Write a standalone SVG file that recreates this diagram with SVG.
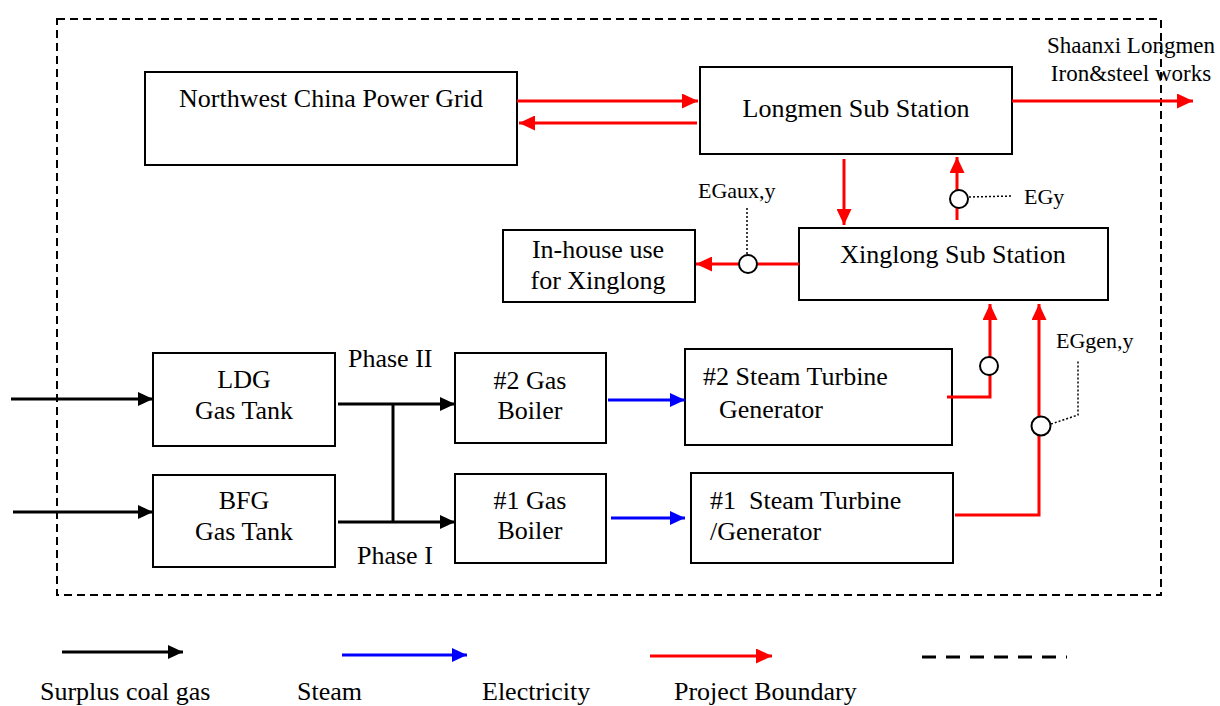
<svg xmlns="http://www.w3.org/2000/svg" width="1220" height="706" viewBox="0 0 1220 706">
<defs>
<style>
.box{fill:#fff;stroke:#000;stroke-width:2}
.t{font-family:"Liberation Serif","Times New Roman",serif;font-size:26px;fill:#000}
.s{font-family:"Liberation Serif","Times New Roman",serif;font-size:22px;fill:#000}
.c{text-anchor:middle}
.blk{stroke:#000;stroke-width:3;fill:none}
.blu{stroke:#00f;stroke-width:3;fill:none}
.red{stroke:#f00;stroke-width:3;fill:none}
.dot{stroke:#000;stroke-width:1.5;stroke-dasharray:2,2;fill:none}
.meter{fill:#fff;stroke:#000;stroke-width:2}
</style>
<marker id="ak" markerUnits="userSpaceOnUse" markerWidth="15" markerHeight="14" refX="15" refY="7" orient="auto"><path d="M0,0 L15,7 L0,14 z" fill="#000"/></marker>
<marker id="ab" markerUnits="userSpaceOnUse" markerWidth="15" markerHeight="14" refX="15" refY="7" orient="auto"><path d="M0,0 L15,7 L0,14 z" fill="#00f"/></marker>
<marker id="ar" markerUnits="userSpaceOnUse" markerWidth="16" markerHeight="15" refX="16" refY="7.5" orient="auto"><path d="M0,0 L16,7.5 L0,15 z" fill="#f00"/></marker>
</defs>
<rect x="0" y="0" width="1220" height="706" fill="#fff"/>

<!-- project boundary -->
<rect id="boundary" x="57" y="19" width="1104" height="576" fill="none" stroke="#000" stroke-width="2" stroke-dasharray="8,5"/>

<!-- nodes -->
<g id="grid"><rect class="box" x="145" y="72" width="372" height="93"/><text class="t c" x="331" y="107">Northwest China Power Grid</text></g>
<g id="longmen"><rect class="box" x="700" y="67" width="312" height="87"/><text class="t c" x="856" y="117">Longmen Sub Station</text></g>
<g id="xinglong"><rect class="box" x="799" y="228" width="309" height="72"/><text class="t c" x="953" y="263">Xinglong Sub Station</text></g>
<g id="inhouse"><rect class="box" x="503" y="230" width="192" height="72"/><text class="t c" x="598" y="258">In-house use</text><text class="t c" x="598" y="289">for Xinglong</text></g>
<g id="ldg"><rect class="box" x="153" y="353" width="182" height="93"/><text class="t c" x="244" y="388">LDG</text><text class="t c" x="244" y="419">Gas Tank</text></g>
<g id="bfg"><rect class="box" x="153" y="475" width="182" height="92"/><text class="t c" x="244" y="509">BFG</text><text class="t c" x="244" y="540">Gas Tank</text></g>
<g id="boiler2"><rect class="box" x="455" y="353" width="151" height="90"/><text class="t c" x="530" y="389">#2 Gas</text><text class="t c" x="530" y="419">Boiler</text></g>
<g id="boiler1"><rect class="box" x="455" y="474" width="151" height="89"/><text class="t c" x="530" y="509">#1 Gas</text><text class="t c" x="530" y="539">Boiler</text></g>
<g id="stg2"><rect class="box" x="685" y="349" width="267" height="96"/><text class="t" x="703" y="385">#2 Steam Turbine</text><text class="t" x="719" y="418">Generator</text></g>
<g id="stg1"><rect class="box" x="691" y="473" width="262" height="90"/><text class="t" x="710" y="509" xml:space="preserve">#1  Steam Turbine</text><text class="t" x="710" y="540">/Generator</text></g>

<!-- labels -->
<g id="labels">
<text class="s c" x="1131" y="53" style="font-size:23px">Shaanxi Longmen</text>
<text class="s c" x="1131" y="81" style="font-size:23px">Iron&amp;steel works</text>
<text class="t" x="348" y="367">Phase II</text>
<text class="t" x="357" y="564">Phase I</text>
<text class="s" x="698" y="198">EGaux,y</text>
<text class="s" x="1024" y="204">EGy</text>
<text class="s" x="1056" y="348">EGgen,y</text>
</g>

<!-- connectors -->
<g id="connectors">
<line class="red" x1="517" y1="101" x2="698" y2="101" marker-end="url(#ar)"/>
<line class="red" x1="697" y1="123" x2="519" y2="123" marker-end="url(#ar)"/>
<line class="red" x1="1012" y1="101" x2="1193" y2="101" marker-end="url(#ar)"/>
<line class="red" x1="844" y1="159" x2="844" y2="225" marker-end="url(#ar)"/>
<line class="red" x1="957" y1="220" x2="957" y2="157" marker-end="url(#ar)"/>
<line class="red" x1="799" y1="264" x2="696" y2="264" marker-end="url(#ar)"/>
<polyline class="red" points="947,397 990,397 990,304" marker-end="url(#ar)"/>
<polyline class="red" points="955,515 1039,515 1039,304" marker-end="url(#ar)"/>

<line class="blk" x1="11" y1="399" x2="153" y2="399" marker-end="url(#ak)"/>
<line class="blk" x1="13" y1="512" x2="153" y2="512" marker-end="url(#ak)"/>
<line class="blk" x1="338" y1="404" x2="455" y2="404" marker-end="url(#ak)"/>
<line class="blk" x1="338" y1="522" x2="455" y2="522" marker-end="url(#ak)"/>
<line class="blk" x1="393" y1="404" x2="393" y2="522"/>

<line class="blu" x1="608" y1="400" x2="685" y2="400" marker-end="url(#ab)"/>
<line class="blu" x1="611" y1="518" x2="685" y2="518" marker-end="url(#ab)"/>

<line class="dot" x1="747" y1="208" x2="747" y2="255"/>
<line class="dot" x1="969" y1="197" x2="1013" y2="196"/>
<polyline class="dot" points="1051,424 1078,415 1078,360"/>

<circle class="meter" cx="748" cy="264" r="9"/>
<circle class="meter" cx="959" cy="199" r="9"/>
<circle class="meter" cx="989" cy="366" r="9"/>
<circle class="meter" cx="1041" cy="426" r="9.5"/>
</g>

<!-- legend -->
<g id="legend">
<line class="blk" x1="62" y1="652" x2="183" y2="652" marker-end="url(#ak)"/>
<line class="blu" x1="342" y1="655" x2="467" y2="655" marker-end="url(#ab)"/>
<line class="red" x1="650" y1="656" x2="772" y2="656" marker-end="url(#ar)"/>
<line x1="922" y1="657" x2="1067" y2="657" stroke="#000" stroke-width="3" stroke-dasharray="14,10"/>
<text class="t" x="40" y="700">Surplus coal gas</text>
<text class="t" x="297" y="700">Steam</text>
<text class="t" x="482" y="700">Electricity</text>
<text class="t" x="674" y="700">Project Boundary</text>
</g>
</svg>
